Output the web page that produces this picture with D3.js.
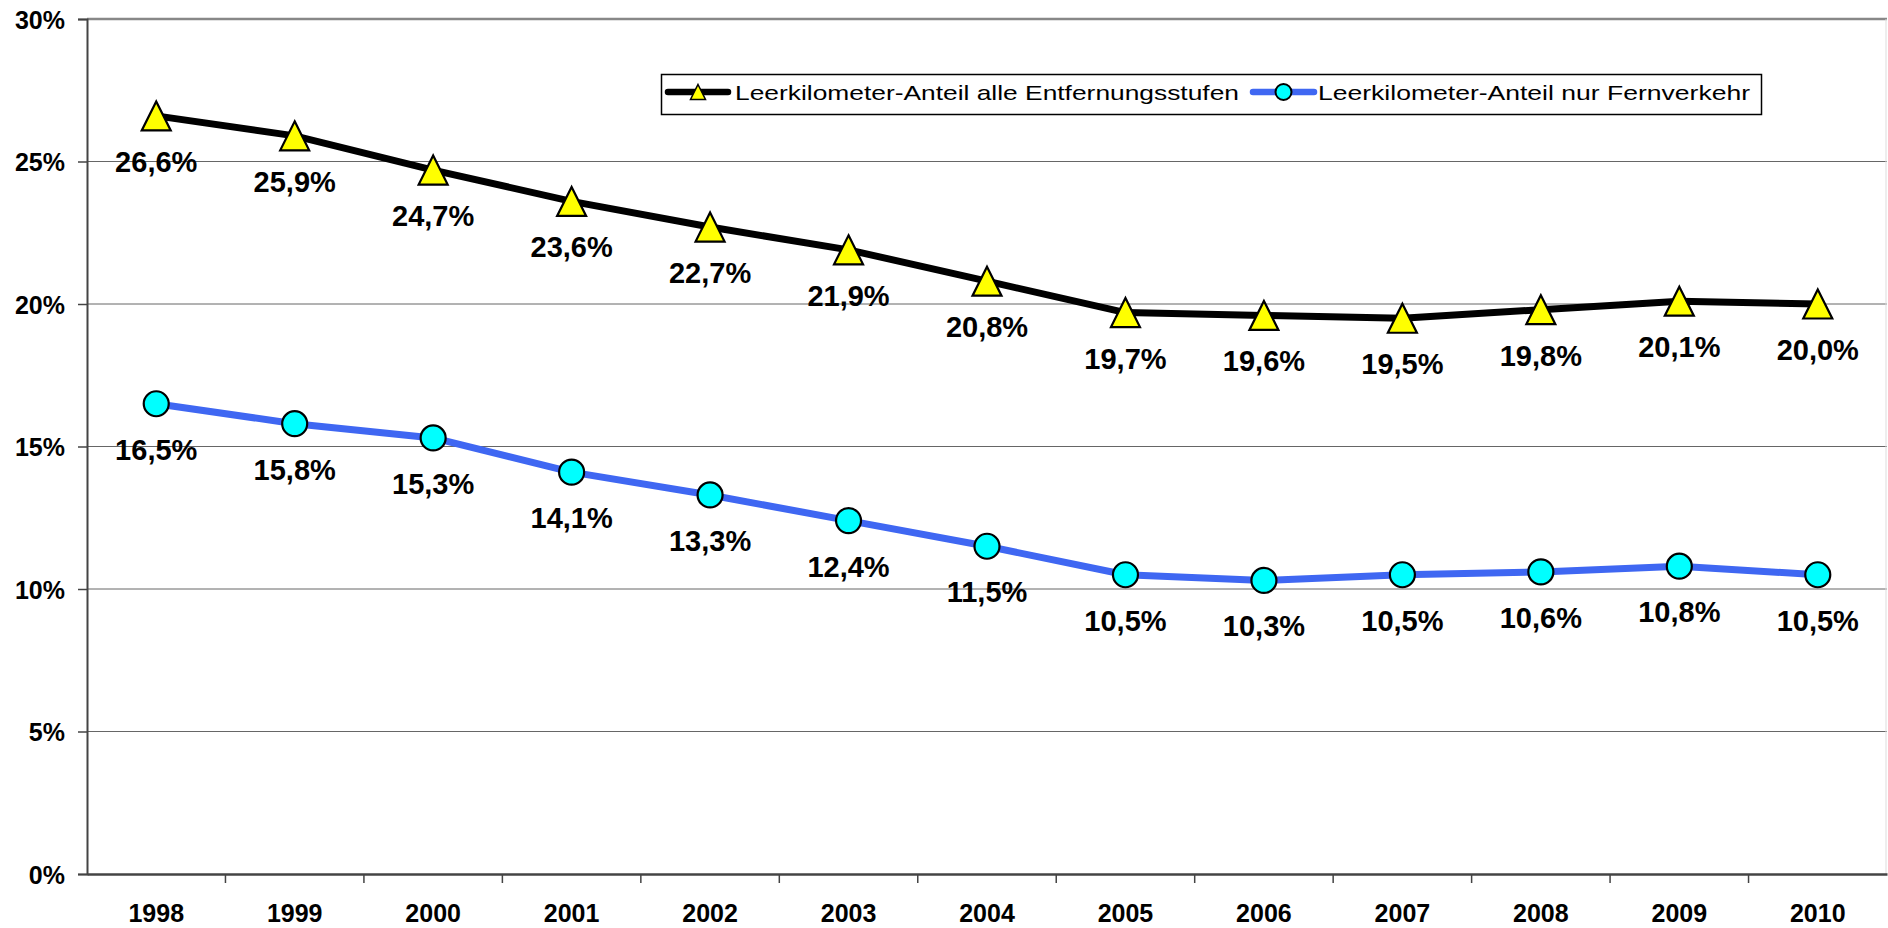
<!DOCTYPE html>
<html>
<head>
<meta charset="utf-8">
<script src="https://cdn.jsdelivr.net/npm/d3@7.9.0/dist/d3.min.js"></script>
<style>
  html, body { margin: 0; padding: 0; background: #fff; }
  svg { display: block; font-family: Arial, "Liberation Sans", Helvetica, sans-serif; }
</style>
</head>
<body>
<svg id="chart" width="1888" height="928"></svg>
<script>
// --- data ---
const years = ["1998", "1999", "2000", "2001", "2002", "2003", "2004", "2005", "2006", "2007", "2008", "2009", "2010"];
const alleStufen = [26.6, 25.9, 24.7, 23.6, 22.7, 21.9, 20.8, 19.7, 19.6, 19.5, 19.8, 20.1, 20.0];
const fernverkehr = [16.5, 15.8, 15.3, 14.1, 13.3, 12.4, 11.5, 10.5, 10.3, 10.5, 10.6, 10.8, 10.5];
const yTicks = [0, 5, 10, 15, 20, 25, 30];
const seriesNames = ["Leerkilometer-Anteil alle Entfernungsstufen", "Leerkilometer-Anteil nur Fernverkehr"];

// --- setup ---
const svg = d3.select("#chart");
const width = 1888, height = 928;
const margin = { top: 19, right: 1, bottom: 54, left: 87 };
const innerWidth = width - margin.left - margin.right;
const innerHeight = height - margin.top - margin.bottom;

const x = d3.scaleBand().domain(years).range([0, innerWidth]);
const y = d3.scaleLinear().domain([0, 30]).range([innerHeight, 0]);
const fmt = v => v.toFixed(1).replace(".", ",") + "%";

const g = svg.append("g").attr("transform", `translate(${margin.left},${margin.top})`);

// Gridlines
g.selectAll("line.grid")
  .data(yTicks.filter(d => d > 0))
  .enter()
  .append("line")
  .attr("class", "grid")
  .attr("x1", 0).attr("x2", innerWidth)
  .attr("y1", d => y(d)).attr("y2", d => y(d))
  .attr("stroke", d => d === 30 ? "#888" : "#666")
  .attr("stroke-width", d => d === 30 ? 2.5 : 1);

// right border
g.append("line")
  .attr("x1", innerWidth - 1).attr("x2", innerWidth - 1)
  .attr("y1", 0).attr("y2", innerHeight)
  .attr("stroke", "#ddd").attr("stroke-width", 1);

// Y axis
const yAxis = g.append("g")
  .call(d3.axisLeft(y).tickValues(yTicks).tickFormat(d => d + "%").tickSize(9).tickPadding(13));
yAxis.select(".domain").attr("stroke", "#444").attr("stroke-width", 2);
yAxis.selectAll(".tick line").attr("stroke", "#444").attr("stroke-width", 1.5);
yAxis.selectAll("text")
  .attr("font-size", "25px").attr("font-weight", "bold").attr("fill", "#000")
  .attr("dy", "0.36em");

// X axis
const xAxis = g.append("g")
  .attr("transform", `translate(0,${innerHeight})`)
  .call(d3.axisBottom(x).tickSize(0).tickPadding(30));
xAxis.select(".domain").attr("stroke", "#444").attr("stroke-width", 2.5);
xAxis.selectAll("text")
  .attr("font-size", "25px").attr("font-weight", "bold").attr("fill", "#000");
// tick marks between categories
g.selectAll("line.xtick")
  .data(years.slice(1))
  .enter()
  .append("line")
  .attr("x1", d => x(d)).attr("x2", d => x(d))
  .attr("y1", innerHeight).attr("y2", innerHeight + 9)
  .attr("stroke", "#444").attr("stroke-width", 1.5);

// Lines
const series = [
  { name: seriesNames[0], values: alleStufen, color: "#000000", fill: "#ffff00", shape: "triangle" },
  { name: seriesNames[1], values: fernverkehr, color: "#3f67f2", fill: "#00ffff", shape: "circle" }
];

const line = d3.line()
  .x((d, i) => x(years[i]) + x.bandwidth() / 2)
  .y(d => y(d));

const triPath = s => `M0,${-s / 2}L${s / 2},${s / 2}L${-s / 2},${s / 2}Z`;

series.forEach(s => {
  g.append("path")
    .datum(s.values)
    .attr("d", line)
    .attr("fill", "none")
    .attr("stroke", s.color)
    .attr("stroke-width", 7)
    .attr("stroke-linejoin", "round");

  const pts = g.selectAll(null)
    .data(s.values)
    .enter()
    .append("g")
    .attr("transform", (d, i) => `translate(${x(years[i]) + x.bandwidth() / 2},${y(d)})`);

  if (s.shape === "triangle") {
    pts.append("path").attr("d", triPath(29))
      .attr("fill", s.fill).attr("stroke", "#000").attr("stroke-width", 2.2);
  } else {
    pts.append("circle").attr("r", 12.5)
      .attr("fill", s.fill).attr("stroke", "#000").attr("stroke-width", 2.2);
  }

  pts.append("text")
    .attr("y", 56)
    .attr("text-anchor", "middle")
    .attr("font-size", "29px")
    .attr("font-weight", "bold")
    .text(d => fmt(d));
});

// Legend
const legend = svg.append("g");
legend.append("rect")
  .attr("x", 661.5).attr("y", 74.5).attr("width", 1100).attr("height", 40)
  .attr("fill", "#fff").attr("stroke", "#000").attr("stroke-width", 1.5);

const legendItems = [
  { x0: 668, x1: 728, tx: 735, tw: 504 },
  { x0: 1253, x1: 1314, tx: 1318, tw: 432 }
];
legendItems.forEach((it, i) => {
  const s = series[i];
  const cy = 92;
  legend.append("line")
    .attr("x1", it.x0).attr("x2", it.x1).attr("y1", cy).attr("y2", cy)
    .attr("stroke", s.color).attr("stroke-width", 6.5).attr("stroke-linecap", "round");
  if (s.shape === "triangle") {
    legend.append("path").attr("d", triPath(15))
      .attr("transform", `translate(${(it.x0 + it.x1) / 2},${cy})`)
      .attr("fill", s.fill).attr("stroke", "#000").attr("stroke-width", 1.5);
  } else {
    legend.append("circle").attr("cx", (it.x0 + it.x1) / 2).attr("cy", cy).attr("r", 8)
      .attr("fill", s.fill).attr("stroke", "#000").attr("stroke-width", 2);
  }
  legend.append("text")
    .attr("x", it.tx).attr("y", cy).attr("dy", "0.36em")
    .attr("font-size", "21px")
    .attr("textLength", it.tw)
    .attr("lengthAdjust", "spacingAndGlyphs")
    .text(s.name);
});
</script>
</body>
</html>
